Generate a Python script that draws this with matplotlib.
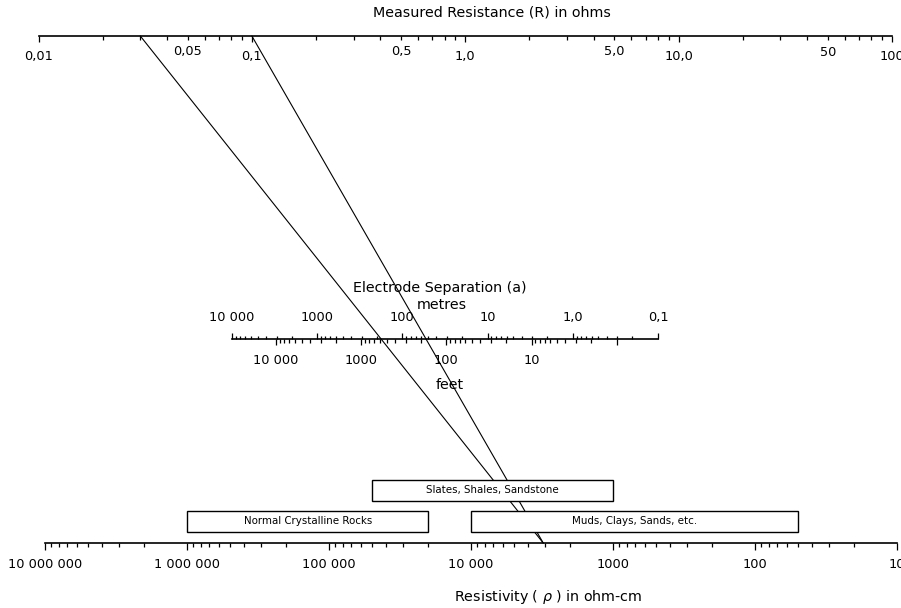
import matplotlib
matplotlib.use("Agg")
import matplotlib.pyplot as plt
from matplotlib.patches import Rectangle, ConnectionPatch
import numpy as np

# ---------------- data ----------------
resistance_major = [0.01, 0.1, 1, 10, 100]
resistance_major_labels = ["0,01", "0,1", "1,0", "10,0", "100"]
resistance_mid = [0.05, 0.5, 5, 50]
resistance_mid_labels = ["0,05", "0,5", "5,0", "50"]

sep_m_major = [10000, 1000, 100, 10, 1, 0.1]
sep_m_labels = ["10 000", "1000", "100", "10", "1,0", "0,1"]
sep_ft_major = [10000, 1000, 100, 10, 1]
sep_ft_labels = ["10 000", "1000", "100", "10", ""]
feet_per_metre = 1 / 0.3048

rho_major = [1e7, 1e6, 1e5, 1e4, 1e3, 1e2, 10]
rho_labels = ["10 000 000", "1 000 000", "100 000", "10 000", "1000", "100", "10"]

rock_names = ["Slates, Shales, Sandstone", "Normal Crystalline Rocks",
              "Muds, Clays, Sands, etc."]
rock_rho_low = [1000, 20000, 50]
rock_rho_high = [50000, 1000000, 10000]
rock_row = [1, 0, 0]

example_R = [0.03, 0.1]
example_rho = [3100, 3100]

# ---------------- layout ----------------
W, H = 901, 608
FS_TICK = 9.3
FS_TITLE = 10.3
plt.rcParams['font.family'] = ['DejaVu Sans']


def fx(x):
    return x / W


def fy(y):
    return 1 - y / H


def px(p):
    return p * 0.72


def minor_values(lo, hi):
    vals = []
    k = int(np.floor(np.log10(lo)))
    while 10 ** k < hi:
        for m in range(2, 10):
            v = m * 10.0 ** k
            if lo < v < hi:
                vals.append(v)
        k += 1
    return vals


def bare(ax):
    for s in ax.spines.values():
        s.set_visible(False)
    ax.patch.set_visible(False)
    ax.set_yticks([])


fig = plt.figure(figsize=(W / 100, H / 100), dpi=100)

# ----- top scale: measured resistance -----
ax_t = fig.add_axes([fx(38.5), fy(36), (892 - 38.5) / W, 2 / H])
bare(ax_t)
ax_t.spines['bottom'].set_visible(True)
ax_t.spines['bottom'].set_linewidth(1.2)
ax_t.set_xscale('log')
ax_t.set_xlim(min(resistance_major), max(resistance_major))
ax_t.set_ylim(0, 1)
ax_t.set_xticks(resistance_major, resistance_major_labels, fontsize=FS_TICK)
t_minor = minor_values(min(resistance_major), max(resistance_major))
t_minor_lab = []
for v in t_minor:
    lab = ""
    for mv, ml in zip(resistance_mid, resistance_mid_labels):
        if np.isclose(v, mv):
            lab = ml
    t_minor_lab.append(lab)
ax_t.set_xticks(t_minor, t_minor_lab, minor=True, fontsize=FS_TICK)
ax_t.tick_params(axis='x', which='major', direction='out', length=px(6),
                 width=0.9, pad=px(8))
ax_t.tick_params(axis='x', which='minor', direction='out', length=px(3.5),
                 width=0.9, pad=px(6))

fig.text(fx(492), fy(13), "Measured Resistance (R) in ohms",
         ha='center', va='center', fontsize=FS_TITLE)

# ----- middle scale: electrode separation -----
mid_w = (658 - 232) / W
ax_m = fig.add_axes([fx(232), fy(339) - 2 / H, mid_w, 2 / H])
bare(ax_m)
ax_m.spines['top'].set_visible(True)
ax_m.spines['top'].set_linewidth(1.2)
ax_m.set_xscale('log')
ax_m.set_xlim(max(sep_m_major), min(sep_m_major))
ax_m.xaxis.tick_top()
ax_m.set_xticks(sep_m_major, sep_m_labels, fontsize=FS_TICK)
ax_m.set_xticks(minor_values(min(sep_m_major), max(sep_m_major)), minor=True)
ax_m.tick_params(axis='x', which='major', direction='out', length=px(6),
                 width=0.9, pad=px(9))
ax_m.tick_params(axis='x', which='minor', direction='out', length=px(3.5),
                 width=0.9)

ax_f = fig.add_axes([fx(232), fy(339), mid_w, 2 / H])
bare(ax_f)
ax_f.set_xscale('log')
ax_f.set_xlim(max(sep_m_major) * feet_per_metre, min(sep_m_major) * feet_per_metre)
ax_f.set_xticks(sep_ft_major, sep_ft_labels, fontsize=FS_TICK)
ax_f.set_xticks(minor_values(min(sep_ft_major), max(sep_ft_major)), minor=True)
ax_f.tick_params(axis='x', which='major', direction='out', length=px(6),
                 width=0.9, pad=px(9))
ax_f.tick_params(axis='x', which='minor', direction='out', length=px(3.5),
                 width=0.9)

fig.text(fx(440), fy(288), "Electrode Separation (a)", ha='center',
         va='center', fontsize=FS_TITLE)
fig.text(fx(442), fy(305), "metres", ha='center', va='center',
         fontsize=FS_TITLE)
fig.text(fx(450), fy(385), "feet", ha='center', va='center',
         fontsize=FS_TITLE)

# ----- bottom scale: resistivity -----
box_h = 71
ax_b = fig.add_axes([fx(45), fy(543), (897 - 45) / W, box_h / H])
bare(ax_b)
ax_b.set_zorder(2)
ax_b.spines['bottom'].set_visible(True)
ax_b.spines['bottom'].set_linewidth(1.2)
ax_b.set_xscale('log')
ax_b.set_xlim(max(rho_major), min(rho_major))
ax_b.set_ylim(0, box_h)
ax_b.set_xticks(rho_major, rho_labels, fontsize=FS_TICK)
ax_b.set_xticks(minor_values(min(rho_major), max(rho_major)), minor=True)
ax_b.tick_params(axis='x', which='major', direction='out', length=px(7),
                 width=0.9, pad=px(8))
ax_b.tick_params(axis='x', which='minor', direction='out', length=px(4),
                 width=0.9)

row_y = {0: 11, 1: 42}
row_hgt = 21
for name, lo, hi, row in zip(rock_names, rock_rho_low, rock_rho_high, rock_row):
    y0 = row_y[row]
    ax_b.add_patch(Rectangle((lo, y0), hi - lo, row_hgt, facecolor='white',
                             edgecolor='black', linewidth=1.0, zorder=3,
                             clip_on=False))
    ax_b.text(np.sqrt(lo * hi), y0 + row_hgt / 2, name, ha='center',
              va='center', fontsize=7.4, zorder=4)

fig.text(fx(548), fy(597), r"Resistivity ( $\rho$ ) in ohm-cm", ha='center',
         va='center', fontsize=FS_TITLE)

# ----- example lines -----
for R, rho in zip(example_R, example_rho):
    con = ConnectionPatch(xyA=(R, 0), coordsA=ax_t.transData,
                          xyB=(rho, 0), coordsB=ax_b.transData,
                          color='black', linewidth=0.8, zorder=1)
    fig.add_artist(con)

fig.savefig("out.png", dpi=100)
